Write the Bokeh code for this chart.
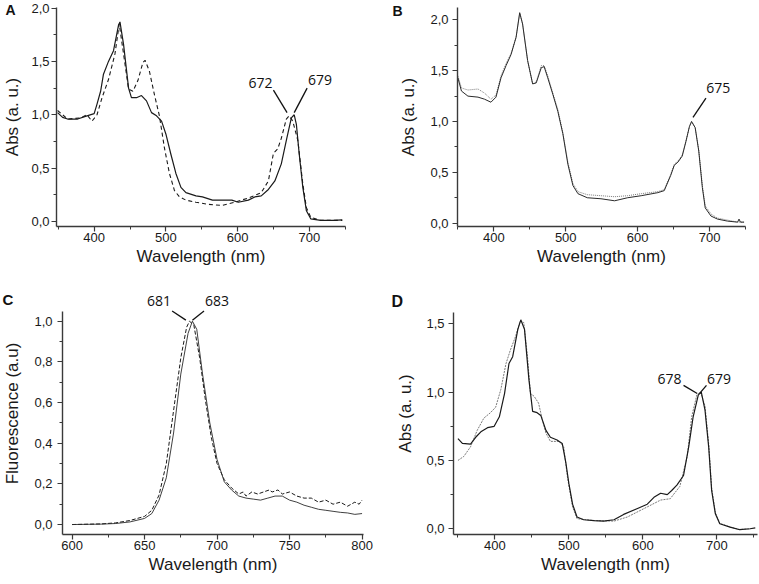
from bokeh.plotting import figure
from bokeh.layouts import column, row
from bokeh.models import FixedTicker, CustomJSTickFormatter, Label, Title
from bokeh.embed import file_html
from bokeh.resources import INLINE

# ---------------- data ----------------
# Panel A
a_solid_x = [349,356,363,377,390,400,404,409,413,420,427,434,436,441,448,452,459,466,473,480,
             487,494,500,507,514,521,528,542,551,565,578,592,601,615,624,633,643,652,661,668,
             675,679,682,686,691,696,702,716,734,746]
a_solid_y = [1.02,0.975,0.96,0.96,0.99,1.01,1.1,1.22,1.38,1.5,1.6,1.84,1.87,1.66,1.25,1.16,1.16,1.18,1.13,1.02,
             0.99,0.94,0.82,0.63,0.45,0.32,0.27,0.24,0.23,0.20,0.20,0.20,0.18,0.20,0.23,0.24,0.30,0.38,0.54,0.76,
             0.97,1.0,0.91,0.63,0.32,0.10,0.025,0.01,0.01,0.015]
a_dash_x = [349,363,381,390,397,404,411,420,429,435,441,448,454,461,468,471,477,484,491,498,
            505,512,519,528,542,560,578,596,615,633,643,650,656,661,668,672,677,684,691,696,
            702,716,746]
a_dash_y = [1.04,0.96,0.97,1.0,0.94,1.0,1.16,1.33,1.57,1.85,1.57,1.24,1.22,1.32,1.49,1.51,1.41,1.19,0.99,0.69,
            0.45,0.29,0.23,0.20,0.18,0.16,0.15,0.18,0.22,0.27,0.38,0.64,0.68,0.78,0.96,0.99,0.94,0.76,0.35,0.13,
            0.04,0.01,0.01]
a_peaks = [672, 679]

# Panel B
b_x = [350,355,364,378,387,396,403,410,417,424,431,436,440,447,454,459,466,470,475,482,
       489,496,503,510,517,530,549,568,586,605,628,637,646,651,656,662,667,672,675,680,
       685,690,694,702,711,725,739,741,743,748]
b_solid_y = [1.43,1.30,1.25,1.24,1.22,1.19,1.24,1.43,1.55,1.66,1.83,2.07,1.96,1.60,1.37,1.38,1.53,1.54,1.43,1.27,
             1.10,0.88,0.58,0.37,0.29,0.25,0.24,0.22,0.25,0.27,0.30,0.32,0.47,0.57,0.60,0.66,0.80,0.95,1.0,0.94,
             0.71,0.35,0.15,0.07,0.04,0.02,0.01,0.04,0.01,0.01]
b_dot_y = [1.45,1.33,1.31,1.32,1.28,1.22,1.26,1.45,1.57,1.67,1.83,2.07,1.96,1.60,1.37,1.39,1.55,1.55,1.45,1.28,
           1.12,0.89,0.60,0.39,0.31,0.28,0.27,0.26,0.27,0.29,0.31,0.33,0.48,0.58,0.61,0.67,0.80,0.95,1.0,0.94,
           0.72,0.37,0.17,0.09,0.05,0.03,0.01,0.01,0.01,0.01]
b_peaks = [675]

# Panel C
c_solid_x = [600,620,630,640,650,655,660,665,670,675,680,683,686,690,695,700,705,710,715,720,
             725,730,735,740,745,750,755,760,765,770,775,780,785,790,795,800]
c_solid_y = [0.0,0.002,0.005,0.013,0.03,0.054,0.12,0.23,0.45,0.74,0.94,1.0,0.96,0.74,0.50,0.32,0.21,0.17,0.14,0.13,
             0.125,0.12,0.13,0.14,0.14,0.12,0.11,0.095,0.085,0.075,0.07,0.065,0.06,0.057,0.05,0.054]
c_dash_x = [600,620,630,640,650,655,660,665,670,675,679,681,684,688,692,696,700,705,710,715,
            718,720,724,728,732,736,738,742,745,750,755,760,765,770,775,780,785,790,795,798,800]
c_dash_y = [0.0,0.003,0.008,0.02,0.04,0.07,0.145,0.30,0.56,0.82,0.97,1.0,0.98,0.82,0.61,0.43,0.30,0.22,0.18,0.15,
            0.16,0.14,0.16,0.15,0.16,0.17,0.16,0.17,0.15,0.16,0.14,0.13,0.13,0.11,0.12,0.10,0.11,0.09,0.11,0.10,0.12]
c_peaks = [681, 683]

# Panel D
d_solid_x = [350,356,367,374,381,390,399,406,413,419,424,431,435,440,446,451,457,462,469,475,
             484,491,496,500,505,511,520,534,547,561,574,592,606,615,624,633,639,646,655,662,
             668,675,679,684,689,693,698,704,718,731,745,752]
d_solid_y = [0.66,0.625,0.62,0.67,0.71,0.74,0.75,0.82,0.99,1.21,1.26,1.46,1.53,1.46,1.09,0.86,0.85,0.83,0.72,0.67,
             0.65,0.625,0.48,0.33,0.18,0.086,0.066,0.06,0.056,0.066,0.105,0.147,0.18,0.23,0.26,0.25,0.28,0.32,0.39,0.60,
             0.82,0.98,1.0,0.87,0.60,0.28,0.11,0.037,0.012,-0.007,0.0,0.007]
d_dot_x = [350,358,367,376,385,394,401,408,415,421,428,434,439,444,448,453,459,464,469,475,
           487,493,498,505,511,534,561,579,606,624,637,650,660,666,673,678,684,689,693,698,
           704,718,731,745]
d_dot_y = [0.50,0.53,0.60,0.72,0.81,0.85,0.89,1.02,1.21,1.31,1.41,1.52,1.51,1.26,0.99,0.97,0.92,0.80,0.70,0.64,
           0.64,0.60,0.38,0.16,0.074,0.06,0.056,0.086,0.16,0.21,0.22,0.31,0.53,0.82,0.98,1.0,0.9,0.62,0.30,0.12,
           0.04,0.012,-0.005,0.0]
d_peaks = [678, 679]

# ticks
abs_x_major = [400, 500, 600, 700]
abs_x_minor = [350, 450, 550, 650, 750]
fl_x_major = [600, 650, 700, 750, 800]
fl_x_minor = [625, 675, 725, 775]

AX_FONT = "Liberation Sans"
NUM_FONT = "Open Sans"
INK = "#1a1a1a"
AXC = "#3a3a3a"


def make_fig(w, h, xr, yr, bl, br, bt, bb, xmaj, xmin, ymaj, ymin, ylab,
             ylab_so=3, ytitle_so=7, ybounds="auto"):
    p = figure(width=w, height=h, x_range=xr, y_range=yr, output_backend="svg",
               toolbar_location=None, min_border_left=bl, min_border_right=br,
               min_border_top=bt, min_border_bottom=bb)
    p.grid.visible = False
    p.outline_line_color = None
    p.xaxis.ticker = FixedTicker(ticks=xmaj, minor_ticks=xmin)
    p.yaxis.ticker = FixedTicker(ticks=ymaj, minor_ticks=ymin)
    p.yaxis.formatter = CustomJSTickFormatter(code="return tick.toFixed(1).replace('.', ',');")
    p.yaxis.bounds = ybounds
    for ax in (p.xaxis[0], p.yaxis[0]):
        ax.axis_line_color = AXC
        ax.axis_line_width = 1.4
        ax.major_tick_line_color = AXC
        ax.minor_tick_line_color = AXC
        ax.major_tick_line_width = 1.2
        ax.minor_tick_line_width = 1.0
        ax.major_tick_out = 5
        ax.major_tick_in = 0
        ax.minor_tick_out = 3
        ax.minor_tick_in = 0
        ax.major_label_text_font = AX_FONT
        ax.major_label_text_font_size = "13px"
        ax.major_label_text_color = INK
        ax.axis_label_text_font = AX_FONT
        ax.axis_label_text_font_size = "17px"
        ax.axis_label_text_font_style = "normal"
        ax.axis_label_text_color = INK
    p.xaxis.axis_label = "Wavelength (nm)"
    p.xaxis.major_label_standoff = 1
    p.xaxis.axis_label_standoff = 2
    p.yaxis.axis_label = ylab
    p.yaxis.major_label_standoff = ylab_so
    p.yaxis.axis_label_standoff = ytitle_so
    return p


def letter(p, txt, offset, standoff, size):
    p.add_layout(Title(text=txt, align="left", vertical_align="bottom", offset=offset,
                       standoff=standoff, text_font=AX_FONT, text_font_style="bold",
                       text_font_size=size, text_color="#111111"), "above")


def note(p, txt, x0, y0, x1, y1, tx, ty):
    p.segment(x0=[x0], y0=[y0], x1=[x1], y1=[y1], line_color="#111111", line_width=1.3)
    p.add_layout(Label(x=tx, y=ty, text=txt, text_align="center", text_baseline="middle",
                       text_font=NUM_FONT, text_font_size="14px", text_color="#111111"))


# ---------------- Panel A ----------------
pA = make_fig(380, 290, (347.5, 750.5), (-0.047, 2.005), 52, 35, 7, 64,
              abs_x_major, abs_x_minor, [0, 0.5, 1.0, 1.5, 2.0], [0.25, 0.75, 1.25, 1.75],
              "Abs (a. u.)", ylab_so=2, ytitle_so=6)
pA.line(a_dash_x, a_dash_y, line_color=INK, line_width=1.1, line_dash="4 3")
pA.line(a_solid_x, a_solid_y, line_color=INK, line_width=1.2)
note(pA, str(a_peaks[0]), a_peaks[0] - 3, 1.02, a_peaks[0] - 22, 1.23, a_peaks[0] - 40, 1.30)
note(pA, str(a_peaks[1]), a_peaks[1], 1.02, a_peaks[1] + 18, 1.25, a_peaks[1] + 36, 1.33)
letter(pA, "A", -51, -20, "14px")

# ---------------- Panel B ----------------
pB = make_fig(378, 290, (349.5, 750), (-0.033, 2.122), 77, 13, 7, 64,
              abs_x_major, abs_x_minor, [0, 0.5, 1.0, 1.5, 2.0], [0.25, 0.75, 1.25, 1.75],
              "Abs (a. u.)", ylab_so=4, ytitle_so=9)
pB.line(b_x, b_dot_y, line_color="#7a7a7a", line_width=1.0, line_dash="1 1")
pB.line(b_x, b_solid_y, line_color="#2a2a2a", line_width=1.0)
note(pB, str(b_peaks[0]), b_peaks[0] + 2, 1.04, b_peaks[0] + 20, 1.23, b_peaks[0] + 37, 1.33)
letter(pB, "B", -65, -22, "14px")

# ---------------- Panel C ----------------
pC = make_fig(380, 293, (593.4, 801), (-0.049, 1.141), 62, 17, 2, 49,
              fl_x_major, fl_x_minor, [0, 0.2, 0.4, 0.6, 0.8, 1.0], [0.1, 0.3, 0.5, 0.7, 0.9],
              "Fluorescence (a.u)", ylab_so=5, ytitle_so=9, ybounds=(-0.049, 1.047))
pC.line(c_dash_x, c_dash_y, line_color=INK, line_width=1.0, line_dash="4 2")
pC.line(c_solid_x, c_solid_y, line_color="#2a2a2a", line_width=0.9)
note(pC, str(c_peaks[0]), c_peaks[0] - 2.5, 1.005, c_peaks[0] - 12, 1.05, c_peaks[0] - 21, 1.098)
note(pC, str(c_peaks[1]), c_peaks[1], 1.005, c_peaks[1] + 8, 1.05, c_peaks[1] + 17, 1.098)
letter(pC, "C", -60, -30, "15px")

# ---------------- Panel D ----------------
pD = make_fig(378, 293, (344, 755), (-0.042, 1.73), 73, 1, 2, 49,
              abs_x_major, abs_x_minor, [0, 0.5, 1.0, 1.5], [0.25, 0.75, 1.25],
              "Abs (a. u.)", ylab_so=4, ytitle_so=8, ybounds=(-0.042, 1.586))
pD.line(d_dot_x, d_dot_y, line_color="#7a7a7a", line_width=1.0, line_dash="2 1")
pD.line(d_solid_x, d_solid_y, line_color="#1a1a1a", line_width=1.2)
note(pD, str(d_peaks[0]), d_peaks[0] - 4.5, 0.99, d_peaks[0] - 23, 1.05, d_peaks[0] - 42, 1.10)
note(pD, str(d_peaks[1]), d_peaks[1] - 2.5, 0.99, d_peaks[1] + 7, 1.05, d_peaks[1] + 24, 1.10)
letter(pD, "D", -62, -34, "16px")

layout = column(row(pA, pB), row(pC, pD))
open("out.html", "w").write(file_html(layout, INLINE))
